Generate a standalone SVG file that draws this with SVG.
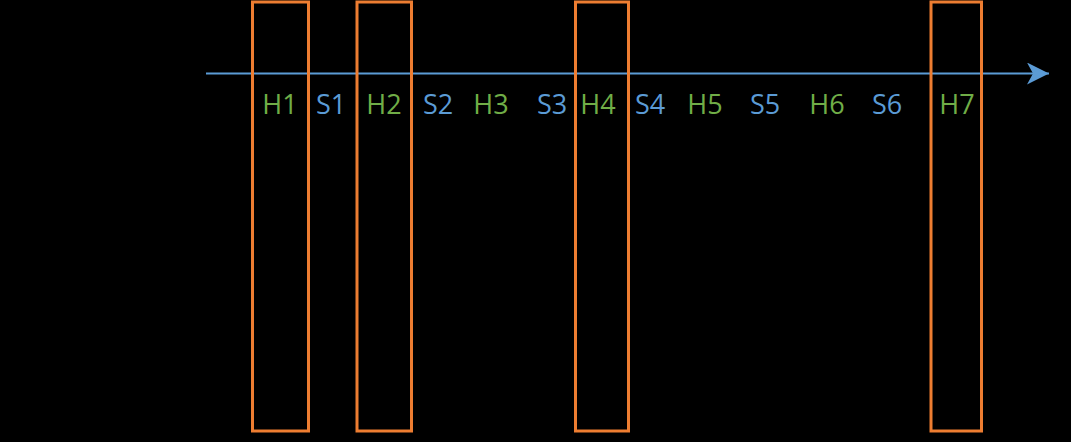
<svg xmlns="http://www.w3.org/2000/svg" width="1071" height="442" viewBox="0 0 1071 442">
<style>
.box{fill:none;stroke:#ED7D31;stroke-width:3}
.lbl{font-family:"Open Sans","Liberation Sans",Arial,sans-serif;font-size:27px;text-anchor:middle}
.h{fill:#70AD47}
.s{fill:#5B9BD5}
</style>
<defs>
<marker id="arr" markerUnits="userSpaceOnUse" markerWidth="22" markerHeight="22" refX="22" refY="11" orient="auto" viewBox="0 0 22 22">
<path d="M0,0 L22,11 L0,22 L6,11 Z" fill="#5B9BD5"/>
</marker>
</defs>
<rect width="1071" height="442" fill="#000"/>
<g id="connectors">
<line x1="206" y1="73.5" x2="1049" y2="73.5" stroke="#5B9BD5" stroke-width="2" marker-end="url(#arr)"/>
</g>
<g id="box1"><rect class="box" x="252.5" y="2" width="56" height="429"/></g>
<g id="box2"><rect class="box" x="357" y="2" width="54.5" height="429"/></g>
<g id="box3"><rect class="box" x="575.5" y="2" width="53" height="429"/></g>
<g id="box4"><rect class="box" x="931" y="2" width="50.5" height="429"/></g>
<g id="labels">
<text class="lbl h" x="280" y="114">H1</text>
<text class="lbl s" x="331" y="114">S1</text>
<text class="lbl h" x="384" y="114">H2</text>
<text class="lbl s" x="438" y="114">S2</text>
<text class="lbl h" x="491" y="114">H3</text>
<text class="lbl s" x="552" y="114">S3</text>
<text class="lbl h" x="598" y="114">H4</text>
<text class="lbl s" x="650" y="114">S4</text>
<text class="lbl h" x="705" y="114">H5</text>
<text class="lbl s" x="765" y="114">S5</text>
<text class="lbl h" x="827" y="114">H6</text>
<text class="lbl s" x="887" y="114">S6</text>
<text class="lbl h" x="957" y="114">H7</text>
</g>
</svg>
